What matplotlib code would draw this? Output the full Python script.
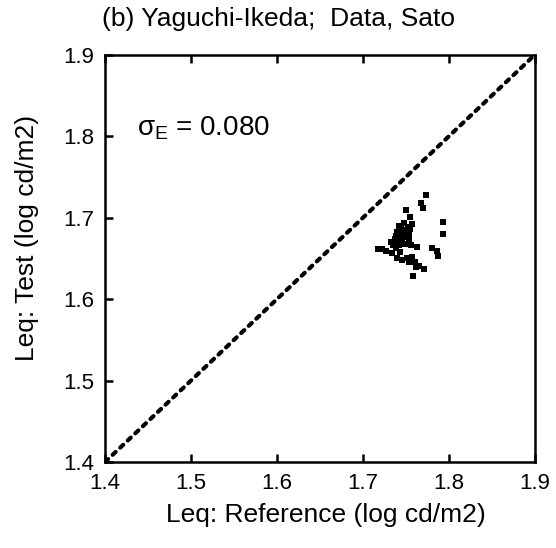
import matplotlib.pyplot as plt

plt.rcParams['font.family'] = ['Liberation Sans', 'DejaVu Sans']
plt.rcParams['mathtext.fontset'] = 'custom'
plt.rcParams['mathtext.rm'] = 'Liberation Sans'
plt.rcParams['mathtext.it'] = 'Liberation Sans'

# Reference vs test luminance (log cd/m2)
ref = [1.773, 1.768, 1.770, 1.750, 1.755, 1.793, 1.793,
       1.742, 1.748, 1.752, 1.740, 1.747, 1.754, 1.737, 1.745, 1.753,
       1.735, 1.742, 1.749, 1.756,
       1.744, 1.750, 1.738, 1.746, 1.751, 1.741, 1.733, 1.739, 1.755, 1.757,
       1.717, 1.722, 1.727,
       1.734, 1.738, 1.743, 1.740,
       1.763, 1.780, 1.786, 1.787,
       1.745, 1.751, 1.757, 1.760, 1.765, 1.771, 1.758, 1.754, 1.762]
test = [1.728, 1.718, 1.712, 1.710, 1.701, 1.695, 1.680,
        1.690, 1.693, 1.688, 1.682, 1.682, 1.680, 1.674, 1.673, 1.673,
        1.667, 1.666, 1.668, 1.667,
        1.686, 1.685, 1.678, 1.677, 1.676, 1.671, 1.670, 1.669, 1.686, 1.692,
        1.662, 1.661, 1.659,
        1.656, 1.663, 1.658, 1.651,
        1.664, 1.663, 1.659, 1.653,
        1.648, 1.650, 1.652, 1.645, 1.641, 1.637, 1.628, 1.646, 1.639]
ticks = [1.4, 1.5, 1.6, 1.7, 1.8, 1.9]
sigma_e = 0.080

fig = plt.figure(figsize=(5.56, 5.48), dpi=100)
ax = fig.add_axes([0.189, 0.157, 0.773, 0.743])

ax.plot([1.4, 1.9], [1.4, 1.9], color='black', linestyle=(0, (1, 1.5)),
        linewidth=3, dash_capstyle='round')
ax.plot(ref, test, 's', color='black', markersize=5, markeredgewidth=0)

ax.set_xlim(1.4, 1.9)
ax.set_ylim(1.4, 1.9)
ax.set_xticks(ticks)
ax.set_yticks(ticks)
ax.set_xticklabels([f'{t:.1f}' for t in ticks])
ax.set_yticklabels([f'{t:.1f}' for t in ticks])
ax.tick_params(direction='in', length=6, width=1.8, labelsize=16,
               top=True, right=False, pad=8)
for s in ax.spines.values():
    s.set_linewidth(1.8)

ax.text(1.437, 1.81, r'$\sigma_{\mathrm{E}}$' + f' = {sigma_e:.3f}', fontsize=20,
        va='center', ha='left')

fig.text(0.586, 0.06, 'Leq: Reference (log cd/m2)', fontsize=19,
         ha='center', va='center')
fig.text(0.049, 0.566, 'Leq: Test (log cd/m2)', fontsize=19,
         ha='center', va='center', rotation=90)
fig.text(0.5, 0.965, '(b) Yaguchi-Ikeda;  Data, Sato', fontsize=19,
         ha='center', va='center')

fig.savefig('out.png', dpi=100)
